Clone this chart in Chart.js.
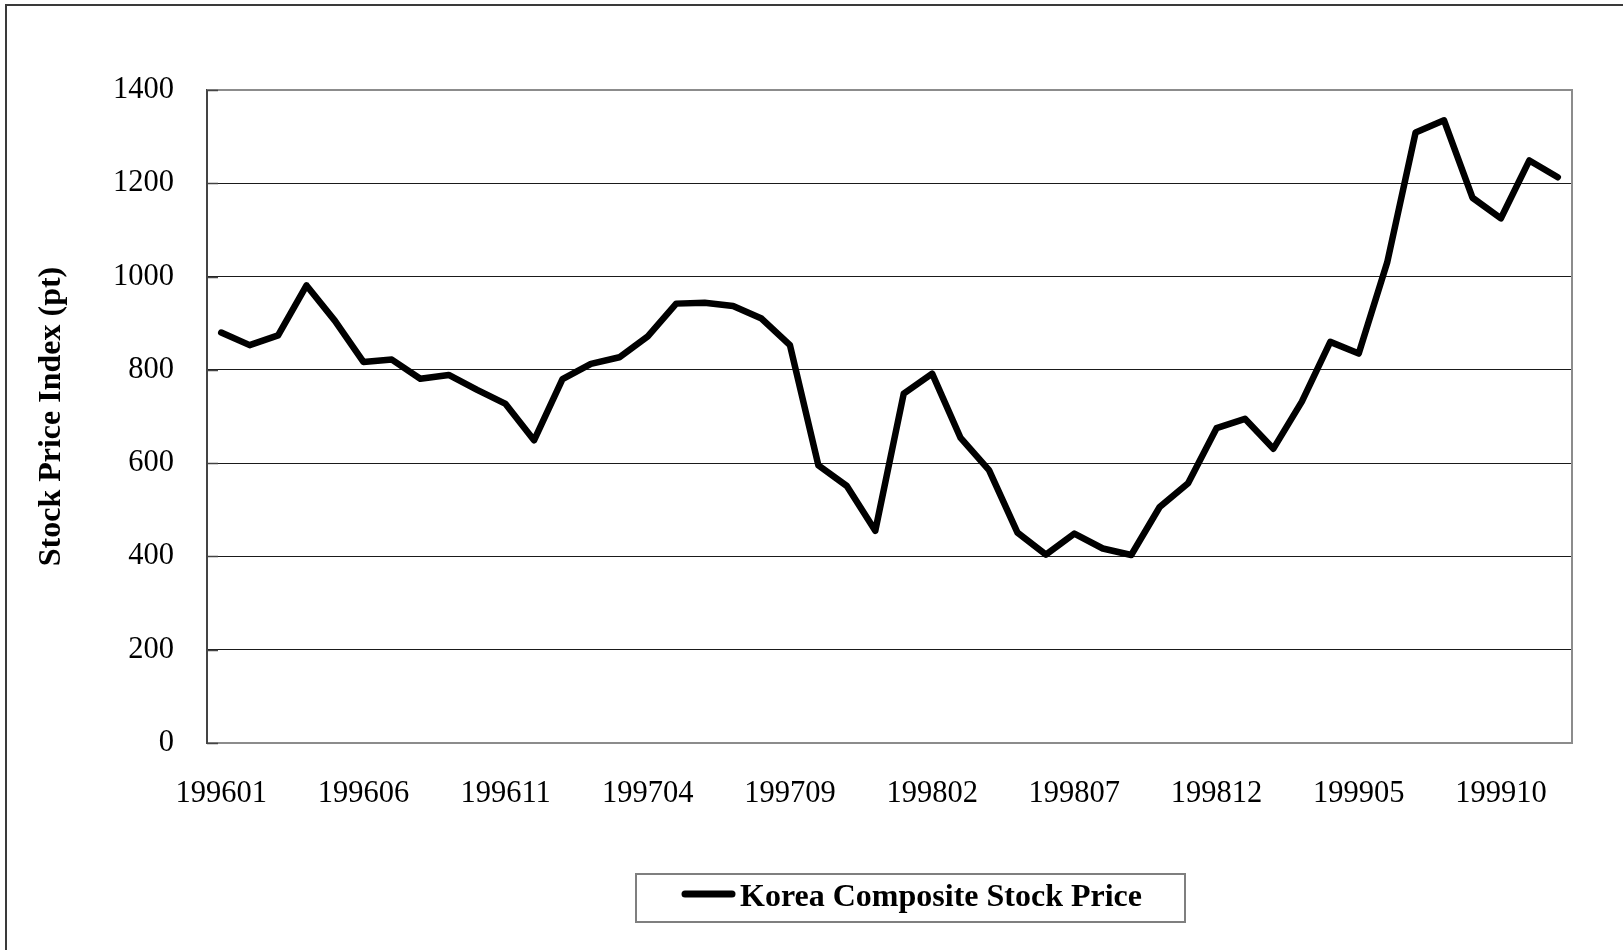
<!DOCTYPE html>
<html>
<head>
<meta charset="utf-8">
<script src="https://cdn.jsdelivr.net/npm/chart.js@4/dist/chart.umd.min.js"></script>
<style>
  html, body { margin: 0; padding: 0; background: #fff; }
  #wrap { position: relative; width: 1623px; height: 950px; }
</style>
</head>
<body>
<div id="wrap"><canvas id="c" width="1623" height="950"></canvas></div>
<script>
const categories = [
  '199601','199602','199603','199604','199605','199606','199607','199608','199609','199610','199611','199612',
  '199701','199702','199703','199704','199705','199706','199707','199708','199709','199710','199711','199712',
  '199801','199802','199803','199804','199805','199806','199807','199808','199809','199810','199811','199812',
  '199901','199902','199903','199904','199905','199906','199907','199908','199909','199910','199911','199912'
];
const kospiValues = [
  880, 853, 874, 981, 905, 817, 822, 781, 789, 757, 727, 649,
  780, 813, 827, 872, 942, 944, 937, 910, 853, 595, 551, 455,
  749, 792, 654, 585, 451, 404, 449, 417, 403, 506, 557, 675,
  695, 631, 732, 860, 835, 1030, 1309, 1335, 1169, 1125, 1249, 1213
];
const seriesLabel = 'Korea Composite Stock Price';
const yTitle = 'Stock Price Index (pt)';
const yTicks = [0, 200, 400, 600, 800, 1000, 1200, 1400];
const labelEvery = 5;

const SERIF = '"Liberation Serif", "Times New Roman", Times, serif';

const framePlugin = {
  id: 'frame',
  beforeDatasetsDraw(chart) {
    const ctx = chart.ctx, a = chart.chartArea;
    ctx.save();
    ctx.strokeStyle = '#8c8c8c';
    ctx.lineWidth = 2;
    ctx.beginPath();
    ctx.moveTo(a.left, a.top);
    ctx.lineTo(a.right, a.top);
    ctx.lineTo(a.right, a.bottom);
    ctx.stroke();
    const ys = chart.scales.y;
    ctx.strokeStyle = '#444';
    ctx.lineWidth = 1.5;
    yTicks.forEach(v => {
      const y = Math.round(ys.getPixelForValue(v)) + 0.5;
      ctx.beginPath();
      ctx.moveTo(a.left, y);
      ctx.lineTo(a.left + 11, y);
      ctx.stroke();
    });
    ctx.restore();
  },
  afterDraw(chart) {
    const ctx = chart.ctx;
    ctx.save();
    ctx.strokeStyle = '#3a3a3a';
    ctx.lineWidth = 2;
    ctx.beginPath();
    ctx.moveTo(6, 950);
    ctx.lineTo(6, 5);
    ctx.lineTo(1623, 5);
    ctx.stroke();
    const ds = chart.data.datasets[0];
    const bx = 636, by = 874, bw = 549, bh = 48;
    ctx.strokeStyle = '#7f7f7f';
    ctx.lineWidth = 2;
    ctx.strokeRect(bx, by, bw, bh);
    const cy = by + bh / 2 - 4;
    ctx.strokeStyle = ds.borderColor;
    ctx.lineWidth = 7;
    ctx.lineCap = 'round';
    ctx.beginPath();
    ctx.moveTo(685, cy);
    ctx.lineTo(732, cy);
    ctx.stroke();
    ctx.fillStyle = '#000';
    ctx.font = 'bold 32px ' + SERIF;
    ctx.textBaseline = 'middle';
    ctx.textAlign = 'left';
    ctx.fillText(ds.label, 740, by + bh / 2);
    ctx.restore();
  }
};

new Chart(document.getElementById('c'), {
  type: 'line',
  data: {
    labels: categories,
    datasets: [{
      label: seriesLabel,
      data: kospiValues,
      borderColor: '#000',
      backgroundColor: '#000',
      borderWidth: 6.5,
      borderJoinStyle: 'round',
      borderCapStyle: 'round',
      pointRadius: 0,
      tension: 0,
      fill: false
    }]
  },
  options: {
    responsive: false,
    animation: false,
    devicePixelRatio: 1,
    layout: { padding: { top: 90, right: 51, bottom: 0, left: 0 } },
    plugins: {
      legend: { display: false },
      tooltip: { enabled: false }
    },
    scales: {
      x: {
        type: 'category',
        offset: true,
        grid: { display: false, drawTicks: false },
        border: { display: true, color: '#8c8c8c', width: 2 },
        ticks: {
          autoSkip: false,
          maxRotation: 0,
          minRotation: 0,
          padding: 33,
          color: '#000',
          font: { family: SERIF, size: 30.5 },
          callback: function(val, idx) { return idx % labelEvery === 0 ? this.getLabelForValue(val) : ''; }
        },
        afterFit(scale) { scale.height = 207; }
      },
      y: {
        min: 0,
        max: 1400,
        grid: {
          drawTicks: false,
          lineWidth: 1,
          color: (c) => (c.tick && (c.tick.value === 0 || c.tick.value === 1400)) ? 'rgba(0,0,0,0)' : '#1a1a1a'
        },
        border: { display: true, color: '#444', width: 2 },
        afterBuildTicks(scale) { scale.ticks = yTicks.map(v => ({ value: v })); },
        ticks: {
          padding: 33,
          color: '#000',
          font: { family: SERIF, size: 30.5 },
          callback: (v) => String(v)
        },
        title: {
          display: true,
          text: yTitle,
          color: '#000',
          font: { family: SERIF, size: 32, weight: 'bold' },
          padding: { top: 33, bottom: 0 }
        },
        afterFit(scale) { scale.width = 207; }
      }
    }
  },
  plugins: [framePlugin]
});
</script>
</body>
</html>
